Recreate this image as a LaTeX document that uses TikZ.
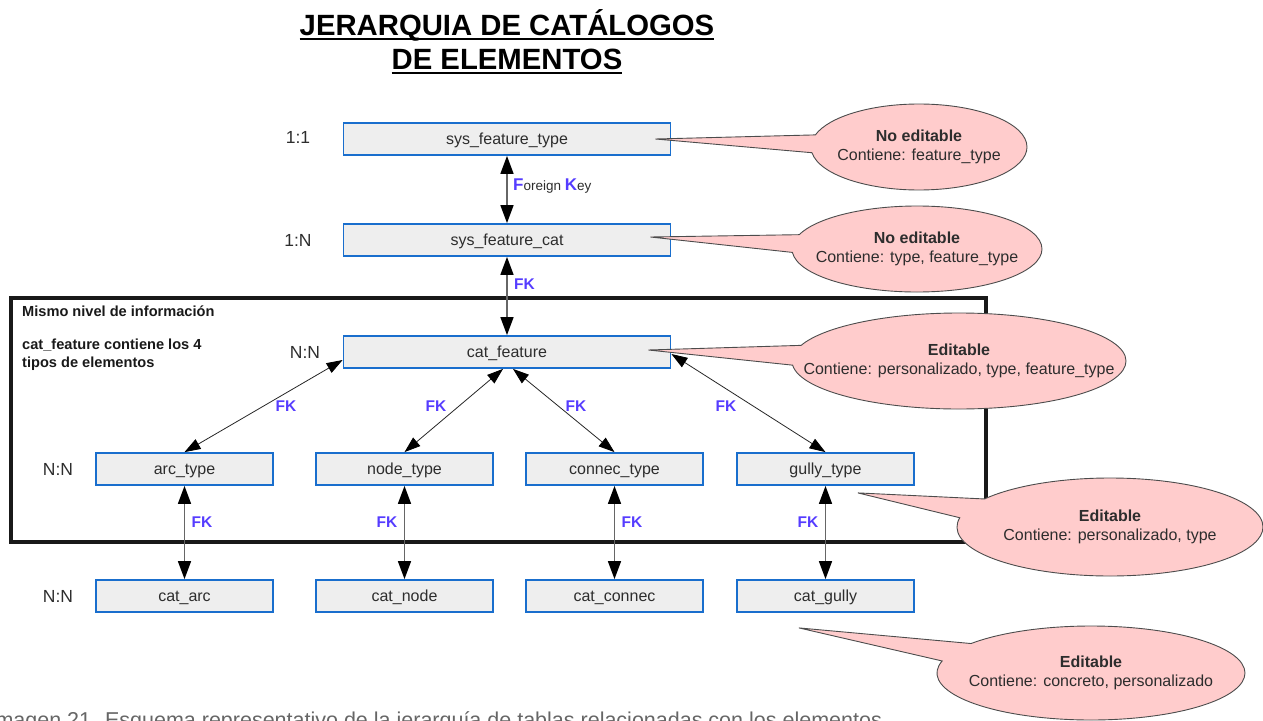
\documentclass[tikz,border=0pt]{standalone}
\usepackage{fontspec}
\setmainfont{Liberation Sans}
\usetikzlibrary{arrows.meta,positioning,shapes.geometric,shapes.callouts}
\definecolor{boxblue}{RGB}{25,110,205}
\definecolor{boxgray}{RGB}{238,238,238}
\definecolor{fkblue}{RGB}{85,60,255}
\definecolor{notepink}{RGB}{255,204,204}
\definecolor{inkgray}{RGB}{45,45,45}
\newcommand{\barred}[1]{\setbox0\hbox{#1}\rlap{\rule[-4.5pt]{\wd0}{2.2pt}}\box0}

\begin{document}
\begin{tikzpicture}[
    x=1pt, y=-1pt,
    every node/.style={font=\fontsize{16}{19}\selectfont, text=inkgray},
    tbl/.style={draw=boxblue, line width=1.8pt, fill=boxgray, minimum width=327pt, minimum height=32pt, inner sep=0pt, text height=14.5pt, text depth=3pt},
    subtbl/.style={tbl, minimum width=177pt},
    ratio/.style={font=\fontsize{17.5}{20}\selectfont},
    fk/.style={font=\bfseries\fontsize{15.5}{18}\selectfont, text=fkblue},
    group/.style={draw=black!90, line width=3.6pt, minimum width=975pt, minimum height=244pt, inner sep=0pt},
    grouptext/.style={font=\bfseries\fontsize{14.6}{18}\selectfont, text=black!90, align=left, anchor=north west, inner sep=0pt},
    link/.style={{Triangle[length=18pt,width=13pt,color=black]}-{Triangle[length=18pt,width=13pt,color=black]}, draw=black!60, line width=1.6pt},
    branch/.style={{Triangle[length=16pt,width=11pt,color=black]}-{Triangle[length=16pt,width=11pt,color=black]}, draw=black!85, line width=0.8pt},
    note/.style={ellipse callout, draw=black!70, line width=0.9pt, fill=notepink, inner xsep=-60pt, inner ysep=-12pt, align=center, callout pointer arc=24, font=\fontsize{16}{19}\selectfont}
]
\useasboundingbox (0,0) rectangle (1263,720);

% titulo
\node[font=\bfseries\fontsize{29.3}{34}\selectfont, text=black, align=center] (title) at (507,42)
    {\barred{JERARQUIA DE CATÁLOGOS}\\\barred{DE ELEMENTOS}};

% bloque del mismo nivel
\node[group] (level) at (498.5,420) {};
\node[grouptext] (leveltitle) at (22,306) {Mismo nivel de información};
\node[grouptext] (levelnote) at (22,339) {cat\_feature contiene los 4\\tipos de elementos};

% tablas
\node[tbl] (sft) at (507,139) {sys\_feature\_type};
\node[tbl] (sfc) at (507,240) {sys\_feature\_cat};
\node[tbl] (cf) at (507,352) {cat\_feature};
\node[subtbl] (arc) at (184.5,469) {arc\_type};
\node[subtbl] (node) at (404.5,469) {node\_type};
\node[subtbl] (connec) at (614.5,469) {connec\_type};
\node[subtbl] (gully) at (825.5,469) {gully\_type};
\node[subtbl] (carc) at (184.5,596) {cat\_arc};
\node[subtbl] (cnode) at (404.5,596) {cat\_node};
\node[subtbl] (cconnec) at (614.5,596) {cat\_connec};
\node[subtbl] (cgully) at (825.5,596) {cat\_gully};

% cardinalidad
\node[ratio] (r1) at (298,137) {1:1};
\node[ratio] (r2) at (298,240) {1:N};
\node[ratio] (r3) at (305,352) {N:N};
\node[ratio] (r4) at (58,469) {N:N};
\node[ratio] (r5) at (58,596) {N:N};

% claves foraneas
\draw[link] (sft) -- node[pos=0.45, right=2pt] (fkey) {{\bfseries\fontsize{17}{18}\selectfont\color{fkblue}F}{\fontsize{13.5}{15}\selectfont oreign }{\bfseries\fontsize{17}{18}\selectfont\color{fkblue}K}{\fontsize{13.5}{15}\selectfont ey}} (sfc);
\draw[link] (sfc) -- node[fk, pos=0.35, right=3pt] (fk0) {FK} (cf);
\draw[branch] ([yshift=-8pt]cf.west) -- (arc.north);
\draw[branch] ([xshift=-4pt]cf.south) -- (node.north);
\draw[branch] ([xshift=6pt]cf.south) -- (connec.north);
\draw[branch] ([yshift=-2pt]cf.east) -- (gully.north);
\node[fk] (fka) at (286,406) {FK};
\node[fk] (fkb) at (436,406) {FK};
\node[fk] (fkc) at (576,406) {FK};
\node[fk] (fkd) at (726,406) {FK};
\draw[link] (arc) -- node[fk, pos=0.39, right=3pt] (fke) {FK} (carc);
\draw[link] (node) -- node[fk, pos=0.39, left=3pt] (fkf) {FK} (cnode);
\draw[link] (connec) -- node[fk, pos=0.39, right=3pt] (fkg) {FK} (cconnec);
\draw[link] (gully) -- node[fk, pos=0.39, left=3pt] (fkh) {FK} (cgully);

% notas
\node[note, minimum width=216pt, minimum height=86pt, callout absolute pointer={([xshift=-16pt]sft.east)}] (n1) at (919,147)
    {\textbf{No editable}\\Contiene: feature\_type};
\node[note, minimum width=250pt, minimum height=86pt, callout absolute pointer={([xshift=-21pt,yshift=3pt]sfc.east)}] (n2) at (917,249)
    {\textbf{No editable}\\Contiene: type, feature\_type};
\node[note, minimum width=334pt, minimum height=96pt, callout absolute pointer={([xshift=-23pt,yshift=2pt]cf.east)}] (n3) at (959,361)
    {\textbf{Editable}\\Contiene: personalizado, type, feature\_type};
\node[note, minimum width=306pt, minimum height=98pt, callout absolute pointer={([xshift=-57pt,yshift=-7pt]gully.south east)}] (n4) at (1110,527)
    {\textbf{Editable}\\Contiene: personalizado, type};
\node[note, minimum width=308pt, minimum height=94pt, callout absolute pointer={([xshift=-116pt,yshift=-15pt]cgully.south east)}] (n5) at (1091,673)
    {\textbf{Editable}\\Contiene: concreto, personalizado};

% pie cortado
\node[anchor=base west, font=\fontsize{21.5}{24}\selectfont, text=black!60] (caption) at (-14,727)
    {Imagen 21. Esquema representativo de la jerarquía de tablas relacionadas con los elementos};
\end{tikzpicture}
\end{document}
